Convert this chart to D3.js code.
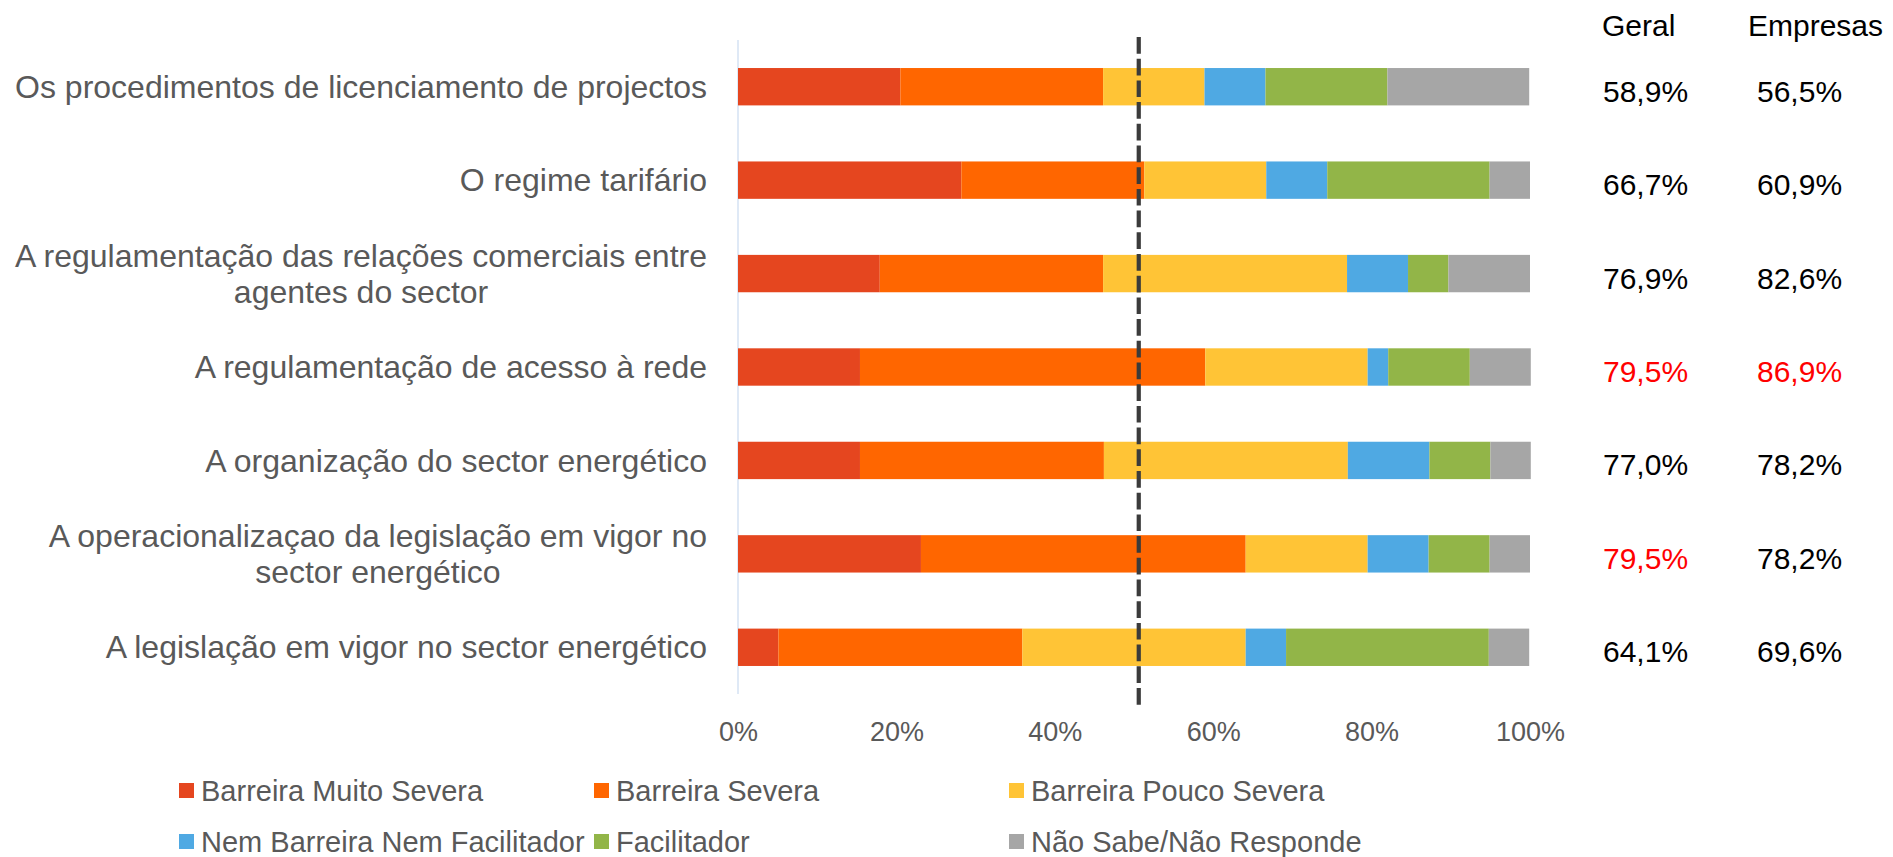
<!DOCTYPE html>
<html><head><meta charset="utf-8">
<script src="https://cdn.jsdelivr.net/npm/d3@7"></script>
<style>html,body{margin:0;padding:0;background:#fff;}svg{display:block;}</style>
</head><body>
<svg id="chart" width="1893" height="857"></svg>
<script>
const categories = [
  ["Os procedimentos de licenciamento de projectos"],
  ["O regime tarifário"],
  ["A regulamentação das relações comerciais entre", "agentes do sector"],
  ["A regulamentação de acesso à rede"],
  ["A organização do sector energético"],
  ["A operacionalizaçao da legislação em vigor no", "sector energético"],
  ["A legislação em vigor no sector energético"]
];
const seriesNames = ["Barreira Muito Severa","Barreira Severa","Barreira Pouco Severa","Nem Barreira Nem Facilitador","Facilitador","Não Sabe/Não Responde"];
const seriesColors = ["#E5461F","#FF6600","#FFC436","#4FA9E3","#92B548","#A6A6A6"];
const muitoSevera = [20.5, 28.2, 17.9, 15.4, 15.4, 23.1, 5.1];
const severa      = [25.6, 23.1, 28.2, 43.6, 30.8, 41.0, 30.8];
const poucoSevera = [12.8, 15.4, 30.8, 20.5, 30.8, 15.4, 28.2];
const nemNem      = [7.7, 7.7, 7.7, 2.6, 10.3, 7.7, 5.1];
const facilitador = [15.4, 20.5, 5.1, 10.3, 7.7, 7.7, 25.6];
const naoSabe     = [17.9, 5.1, 10.3, 7.7, 5.1, 5.1, 5.1];
const geral    = ["58,9%","66,7%","76,9%","79,5%","77,0%","79,5%","64,1%"];
const empresas = ["56,5%","60,9%","82,6%","86,9%","78,2%","78,2%","69,6%"];
const geralHighlight    = [false,false,false,true,false,true,false];
const empresasHighlight = [false,false,false,true,false,false,false];
const columnHeaders = ["Geral","Empresas"];
const xTicks = [0,20,40,60,80,100];
const refLine = 50.6;

const series = [muitoSevera, severa, poucoSevera, nemNem, facilitador, naoSabe];
const rows = categories.map((c,i)=>{ const o={idx:i}; seriesNames.forEach((s,j)=>o[s]=series[j][i]); return o; });

const svg = d3.select("#chart");
const FONT = "'Liberation Sans', Arial, sans-serif";
const x = d3.scaleLinear().domain([0,100]).range([738,1530]);
const y = d3.scaleBand().domain(d3.range(categories.length)).range([40,694]).paddingInner(0.6).paddingOuter(0.3);

// axis line
svg.append("line").attr("x1",x(0)).attr("x2",x(0)).attr("y1",40).attr("y2",694)
  .attr("stroke","#D5E2F3").attr("stroke-width",1.5);

const stack = d3.stack().keys(seriesNames)(rows);
svg.append("g").selectAll("g").data(stack).join("g")
  .attr("fill",(d,i)=>seriesColors[i])
  .selectAll("rect").data(d=>d).join("rect")
  .attr("x",d=>x(d[0])).attr("width",d=>x(d[1])-x(d[0]))
  .attr("y",d=>y(d.data.idx)).attr("height",y.bandwidth());

// x axis tick labels
const xAxis = d3.axisBottom(x).tickValues(xTicks).tickFormat(d=>d+"%").tickSize(0).tickPadding(0);
const ax = svg.append("g").attr("transform","translate(0,722)").call(xAxis);
ax.select(".domain").remove();
ax.selectAll("text").attr("font-family",FONT).attr("font-size",27).attr("fill","#595959").attr("dy","0.71em");

// reference dashed line
svg.append("line").attr("x1",x(refLine)).attr("x2",x(refLine)).attr("y1",37).attr("y2",706)
  .attr("stroke","#3B3B3B").attr("stroke-width",4.2).attr("stroke-dasharray","16.7,5");

// category labels
const labelRight = 707;
categories.forEach((lines,i)=>{
  const cy = y(i)+y.bandwidth()/2;
  const lh = 36;
  const t = svg.append("text").attr("font-family",FONT).attr("font-size",32).attr("fill","#595959")
    .attr("text-anchor","middle");
  lines.forEach((ln,k)=>{
    t.append("tspan").attr("x",0).attr("y", cy + (k-(lines.length-1)/2)*lh).attr("dy","0.35em").text(ln);
  });
  const w = t.node().getBBox().width;
  t.attr("transform",`translate(${labelRight - w/2},0)`);
});

// column headers and values
const colX = [1602, 1748];
const valX = [1603, 1757];
columnHeaders.forEach((h,j)=>{
  svg.append("text").attr("x",colX[j]).attr("y",36).attr("font-family",FONT).attr("font-size",30).attr("fill","#000").text(h);
});
[geral, empresas].forEach((vals,j)=>{
  const hl = j===0?geralHighlight:empresasHighlight;
  svg.append("g").selectAll("text").data(vals).join("text")
    .attr("x",valX[j]).attr("y",(d,i)=>y(i)+y.bandwidth()/2+15)
    .attr("font-family",FONT).attr("font-size",30)
    .attr("fill",(d,i)=>hl[i]?"#FF0000":"#000").text(d=>d);
});

// legend
const legX = [179, 594, 1009];
const legY = [791, 842];
seriesNames.forEach((s,i)=>{
  const col = i%3, row = Math.floor(i/3);
  const g = svg.append("g").attr("transform",`translate(${legX[col]},${legY[row]})`);
  g.append("rect").attr("x",0).attr("y",-8).attr("width",15).attr("height",15).attr("fill",seriesColors[i]);
  g.append("text").attr("x",22).attr("y",0).attr("dy","0.35em").attr("font-family",FONT).attr("font-size",29).attr("fill","#595959").text(s);
});
</script>
</body></html>
